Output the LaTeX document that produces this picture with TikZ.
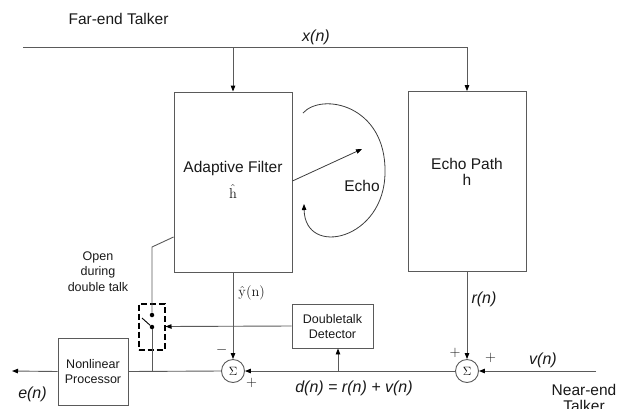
\documentclass[tikz,border=0pt]{standalone}
\usepackage[no-math]{fontspec}
\setmainfont{Liberation Sans}
\usetikzlibrary{arrows.meta,positioning}
\definecolor{wire}{RGB}{90,90,90}
\definecolor{ink}{RGB}{25,25,25}
\tikzset{
  >={Triangle[length=6pt,width=4.5pt,color=black]},
  block/.style={draw=wire,line width=0.9pt,inner sep=0pt},
  sumnode/.style={circle,draw=wire,line width=0.9pt,minimum size=23pt,inner sep=0pt,
    font=\fontsize{13}{13}\selectfont},
  lbl/.style={font=\fontsize{15.5}{16}\selectfont,text=ink,inner sep=0pt,anchor=base},
  sig/.style={font=\fontsize{16}{16}\selectfont\itshape,text=ink,inner sep=0pt,anchor=base},
  note/.style={font=\fontsize{12.5}{15}\selectfont,text=ink,inner sep=0pt,anchor=base},
  sign/.style={font=\fontsize{14}{14}\selectfont,text=ink,inner sep=0pt},
  wire/.style={draw=wire,line width=0.9pt},
  echo/.style={draw=ink!85,line width=0.8pt},
  dot/.style={circle,fill=black,inner sep=0pt,minimum size=4.5pt},
  switchbox/.style={draw=black,line width=2pt,dash pattern=on 6pt off 3pt,
    minimum width=26pt,minimum height=46pt,inner sep=0pt},
}

\begin{document}
\begin{tikzpicture}[x=1pt,y=-1pt]
  \useasboundingbox (0,0) rectangle (618,408);
  % blocks
  \node[block,minimum width=118pt,minimum height=180pt] (af) at (233,182) {};
  \node[block,minimum width=118pt,minimum height=179.5pt] (ep) at (467,181.3) {};
  \node[block,minimum width=81pt,minimum height=44pt] (dtd) at (332.5,326) {};
  \node[block,minimum width=70pt,minimum height=67pt] (nlp) at (93,371.5) {};
  \node[sumnode] (sumL) at (233,371) {$\Sigma$};
  \node[sumnode] (sumR) at (467,371) {$\Sigma$};
  \node[switchbox] (sw) at (151.5,326.5) {};
  \node[dot] (swtop) at (152,315) {};
  \node[dot] (swbot) at (152,327) {};
  % texts
  \node[lbl] (far) at (118.5,24) {Far-end Talker};
  \node[sig] (xn) at (316,41) {x(n)};
  \node[lbl] (aftitle) at (233,172.5) {Adaptive Filter};
  \node[lbl] (afhat) at (233,198) {$\hat{\mathrm{h}}$};
  \node[lbl] (eptitle) at (467,169.3) {Echo Path};
  \node[lbl] (eph) at (467,185) {h};
  \node[lbl] (echolbl) at (362,191.5) {Echo};
  \node[note] (open1) at (98,260.5) {Open};
  \node[note] (open2) at (98,275.5) {during};
  \node[note] (open3) at (98,291) {double talk};
  \node[note] (dtd1) at (dtd.center |- 0,323.5) {Doubletalk};
  \node[note] (dtd2) at (dtd.center |- 0,338.5) {Detector};
  \node[note] (nlp1) at (93,368.3) {Nonlinear};
  \node[note] (nlp2) at (93,383) {Processor};
  \node[lbl] (yhat) at (251.7,296.7) {$\hat{\mathrm{y}}(\mathrm{n})$};
  \node[sig] (rn) at (484,303) {r(n)};
  \node[sig] (vn) at (543,364) {v(n)};
  \node[sig] (dn) at (354,392) {d(n) = r(n) + v(n)};
  \node[sig] (en) at (32.5,398) {e(n)};
  \node[lbl] (near1) at (584,395) {Near-end};
  \node[lbl] (near2) at (584,411) {Talker};
  \node[sign] (minus) at (221.7,350) {$-$};
  \node[sign] (plusL) at (251.7,382.7) {$+$};
  \node[sign] (plusRa) at (455,353.3) {$+$};
  \node[sign] (plusRb) at (490.7,358.3) {$+$};
  % far-end path
  \coordinate (farin) at (23,47);
  \draw[wire,->] (farin) -| (ep.north);
  \draw[wire,->] (af.north |- farin) -- (af.north);
  % near-end path
  \coordinate (nearin) at (596,371);
  \coordinate (eout) at (12,371);
  \coordinate (dttap) at (338,371);
  \draw[wire,->] (nearin) -- (sumR.east);
  \draw[wire,->] (sumR.west) -- (sumL.east);
  \draw[wire] (sumL.west) -- (nlp.east);
  \draw[wire,->] (nlp.west) -- (eout);
  \draw[wire,->] (af.south) -- (sumL.north);
  \draw[wire,->] (ep.south) -- (sumR.north);
  \draw[wire,->] (dttap) -- (dttap |- dtd.south);
  \draw[wire,->] (dtd.west) -- (sw.east);
  % switch
  \coordinate (aftap) at (af.west |- 0,237);
  \coordinate (bend) at (152,247);
  \draw[wire] (aftap) -- (bend) -- (swtop);
  \draw[wire] (swbot) -- (swbot |- nlp.east);
  \draw[black,line width=0.9pt] (swbot) -- ++(-10,-9);
  % echo
  \coordinate (echofrom) at (af.east |- 0,181);
  \coordinate (echoto) at (362,149);
  \coordinate (arcS) at (303,113);
  \coordinate (arcE) at (304,204);
  \draw[echo,->] (echofrom) -- (echoto);
  \draw[echo,->] (arcS) .. controls (322,92) and (386,105) .. (385,172)
    .. controls (385,240) and (305,258) .. (arcE);
\end{tikzpicture}
\end{document}
